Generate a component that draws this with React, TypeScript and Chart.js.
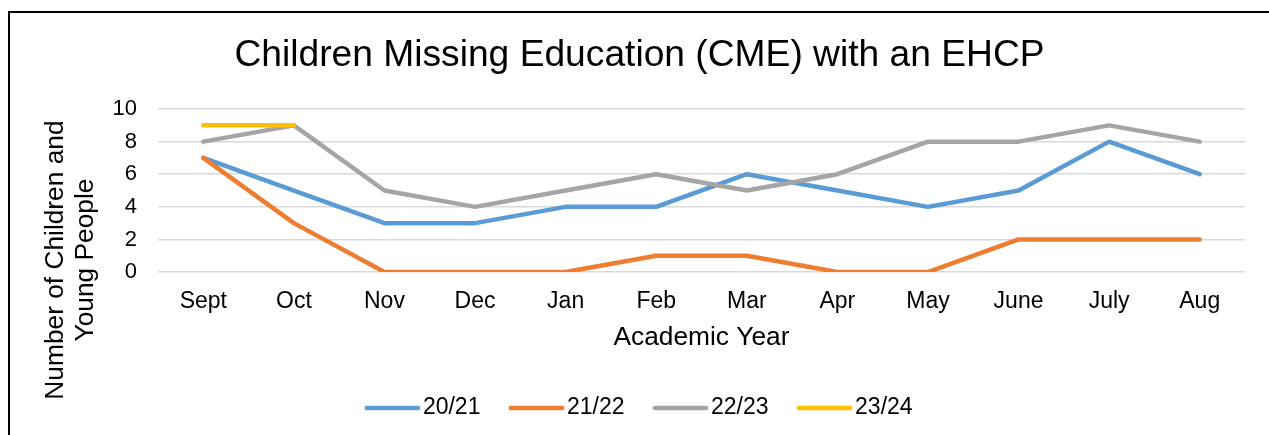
import React, { useEffect, useRef } from "react";
import { Chart, registerables } from "chart.js";

Chart.register(...registerables);

const months = ["Sept", "Oct", "Nov", "Dec", "Jan", "Feb", "Mar", "Apr", "May", "June", "July", "Aug"];
const seriesNames = ["20/21", "21/22", "22/23", "23/24"];
const y2021 = [7, 5, 3, 3, 4, 4, 6, 5, 4, 5, 8, 6];
const y2122 = [7, 3, 0, 0, 0, 1, 1, 0, 0, 2, 2, 2];
const y2223 = [8, 9, 5, 4, 5, 6, 5, 6, 8, 8, 9, 8];
const y2324 = [9, 9, null, null, null, null, null, null, null, null, null, null];
const seriesColors = ["#5B9BD5", "#ED7D31", "#A5A5A5", "#FFC000"];
const yTitleLines = ["Number of Children and", "Young People"];

const FONT = "Arial, 'Liberation Sans', sans-serif";
const LINE_W = 4.5;

function legendSwatch(color: string): HTMLCanvasElement {
  const c = document.createElement("canvas");
  c.width = 64;
  c.height = 8;
  const g = c.getContext("2d")!;
  g.strokeStyle = color;
  g.lineWidth = LINE_W;
  g.lineCap = "round";
  g.beginPath();
  g.moveTo(9.75, 4);
  g.lineTo(61.25, 4);
  g.stroke();
  return c;
}

const yTitlePlugin = {
  id: "yTitle",
  afterDraw(chart: any) {
    const { ctx, chartArea } = chart;
    ctx.save();
    ctx.font = `26.3px ${FONT}`;
    ctx.fillStyle = "#000";
    ctx.textAlign = "center";
    ctx.textBaseline = "middle";
    const cy = chartArea.bottom - 12;
    const xs = [chartArea.left - 102, chartArea.left - 72];
    yTitleLines.forEach((line, i) => {
      ctx.save();
      ctx.translate(xs[i], cy);
      ctx.rotate(-Math.PI / 2);
      ctx.fillText(line, 0, 0);
      ctx.restore();
    });
    ctx.restore();
  },
};

export default function App() {
  const ref = useRef<HTMLCanvasElement>(null);
  useEffect(() => {
    document.documentElement.style.overflow = "hidden";
    document.body.style.overflow = "hidden";
    const all = [y2021, y2122, y2223, y2324];
    const chart = new Chart(ref.current!, {
      type: "line",
      data: {
        labels: months,
        datasets: all.map((d, i) => ({
          label: seriesNames[i],
          data: d,
          borderColor: seriesColors[i],
          backgroundColor: seriesColors[i],
          borderWidth: LINE_W,
          borderCapStyle: "round",
          borderJoinStyle: "round",
          pointRadius: 0,
          pointHoverRadius: 0,
          pointStyle: legendSwatch(seriesColors[i]),
          tension: 0,
          fill: false,
          spanGaps: false,
          order: all.length - i,
        })),
      },
      options: {
        responsive: false,
        animation: false,
        layout: { padding: { left: 24, right: 24, top: 0, bottom: 5.5 } },
        plugins: {
          title: {
            display: true,
            text: "Children Missing Education (CME) with an EHCP",
            color: "#000",
            font: { family: FONT, size: 37.2, weight: "normal" },
            padding: { top: 20.7, bottom: 30.7 },
          },
          legend: {
            position: "bottom",
            labels: {
              usePointStyle: true,
              pointStyleWidth: 45,
              color: "#000",
              font: { family: FONT, size: 23 },
              padding: 30,
              sort: (a: any, b: any) => a.datasetIndex - b.datasetIndex,
            },
          },
          tooltip: { enabled: false },
        },
        scales: {
          x: {
            offset: true,
            grid: { display: false, drawTicks: false },
            border: { display: false },
            ticks: { color: "#000", font: { family: FONT, size: 23 }, padding: 16, maxRotation: 0 },
            title: {
              display: true,
              text: "Academic Year",
              color: "#000",
              font: { family: FONT, size: 26.3 },
              padding: { top: -9.4, bottom: 12.7 },
            },
          },
          y: {
            min: 0,
            max: 10,
            ticks: { stepSize: 2, color: "#000", font: { family: FONT, size: 22 }, padding: 21 },
            grid: { color: "#D9D9D9", lineWidth: 1.5, drawTicks: false },
            border: { display: false },
            afterFit: (scale: any) => {
              scale.width = 124;
            },
          },
        },
      },
      plugins: [yTitlePlugin],
    });
    return () => chart.destroy();
  }, []);
  return (
    <div
      style={{
        position: "fixed",
        left: 8,
        top: 11,
        width: 1259,
        height: 422,
        borderTop: "2px solid #000",
        borderLeft: "2px solid #000",
        overflow: "hidden",
      }}
    >
      <canvas ref={ref} width={1259} height={422} style={{ display: "block" }} />
    </div>
  );
}
